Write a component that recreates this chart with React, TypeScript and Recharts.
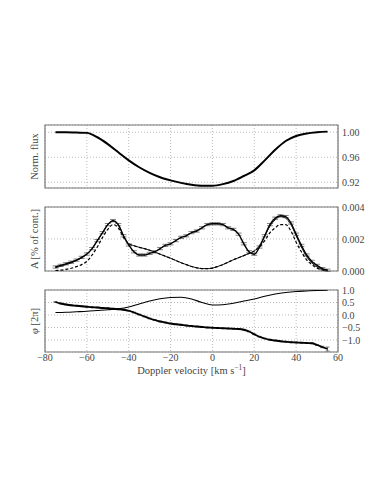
import React from "react";
import {
  ComposedChart,
  Line,
  XAxis,
  YAxis,
  CartesianGrid,
  ReferenceArea,
  ErrorBar,
  Label,
} from "recharts";

// ---------- Data ----------
const xTicks = [-80, -60, -40, -20, 0, 20, 40, 60];

// Panel 1: normalised flux
const fluxX = [-75, -70, -65, -60, -55, -50, -45, -40, -35, -30, -25, -20, -15, -10, -5, 0, 5, 10, 15, 20, 25, 30, 35, 40, 45, 50, 55];
const fluxY = [1.0, 1.0, 0.9995, 0.999, 0.992, 0.981, 0.968, 0.955, 0.944, 0.935, 0.928, 0.923, 0.919, 0.916, 0.9145, 0.9145, 0.917, 0.922, 0.93, 0.939, 0.955, 0.972, 0.986, 0.994, 0.998, 1.0, 1.001];
const fluxTicks = [0.92, 0.96, 1.0];

// Panel 2: amplitude
const ampX = [-75, -72.5, -70, -67.5, -65, -62.5, -60, -57.5, -55, -52.5, -50, -47.5, -45, -42.5, -40, -37.5, -35, -32.5, -30, -27.5, -25, -22.5, -20, -17.5, -15, -12.5, -10, -7.5, -5, -2.5, 0, 2.5, 5, 7.5, 10, 12.5, 15, 17.5, 20, 22.5, 25, 27.5, 30, 32.5, 35, 37.5, 40, 42.5, 45, 47.5, 50, 52.5, 55];
const ampData = [0.00025, 0.00035, 0.00045, 0.00055, 0.00068, 0.00085, 0.00106, 0.0014, 0.0019, 0.0024, 0.0029, 0.00315, 0.0029, 0.0022, 0.00163, 0.0012, 0.001, 0.001, 0.0011, 0.0012, 0.0014, 0.0016, 0.0017, 0.0019, 0.0021, 0.0022, 0.0024, 0.0025, 0.0027, 0.0029, 0.00295, 0.00295, 0.0029, 0.0027, 0.0026, 0.0023, 0.0017, 0.0012, 0.00105, 0.0015, 0.0022, 0.0029, 0.0033, 0.00345, 0.0034, 0.003, 0.0023, 0.0016, 0.001, 0.0006, 0.00035, 0.00015, 0.00005];
const ampErr = 0.00007;
const ampModel1 = [0.0002, 0.0003, 0.0004, 0.0005, 0.00065, 0.00082, 0.00105, 0.0014, 0.0019, 0.0024, 0.0029, 0.0031, 0.0029, 0.0022, 0.0017, 0.00158, 0.00148, 0.0014, 0.0013, 0.00118, 0.00105, 0.00092, 0.0008, 0.00066, 0.00052, 0.0004, 0.00028, 0.0002, 0.00015, 0.00015, 0.00018, 0.00028, 0.0004, 0.00055, 0.0007, 0.00083, 0.00096, 0.0011, 0.00125, 0.0016, 0.0022, 0.0028, 0.0032, 0.0034, 0.0033, 0.0029, 0.0022, 0.0015, 0.0009, 0.0005, 0.00025, 0.0001, 0.00003];
const ampModel2 = [0.00002, 0.00005, 0.0001, 0.00017, 0.00027, 0.0004, 0.0006, 0.001, 0.0015, 0.0021, 0.0026, 0.0029, 0.0027, 0.0021, 0.0017, 0.00158, 0.00148, 0.0014, 0.0013, 0.00118, 0.00105, 0.00092, 0.0008, 0.00066, 0.00052, 0.0004, 0.00028, 0.0002, 0.00015, 0.00015, 0.00018, 0.00028, 0.0004, 0.00055, 0.0007, 0.00083, 0.00096, 0.0011, 0.00125, 0.0015, 0.0019, 0.0024, 0.0027, 0.0029, 0.0029, 0.0025, 0.0018, 0.0012, 0.0007, 0.0004, 0.00018, 0.00006, 0.0];
const ampTicks = [0, 0.002, 0.004];

// Panel 3: phase
const phX = ampX;
const phDown = [0.52, 0.46, 0.42, 0.39, 0.37, 0.35, 0.33, 0.31, 0.3, 0.28, 0.27, 0.25, 0.23, 0.21, 0.17, 0.1, 0.02, -0.06, -0.14, -0.2, -0.26, -0.3, -0.34, -0.37, -0.39, -0.42, -0.44, -0.46, -0.48, -0.5, -0.51, -0.52, -0.53, -0.54, -0.55, -0.56, -0.59, -0.66, -0.77, -0.87, -0.94, -0.99, -1.02, -1.05, -1.07, -1.09, -1.1, -1.11, -1.12, -1.13, -1.2, -1.28, -1.36];
const phDownErr = [0.015, 0.015, 0.015, 0.015, 0.015, 0.015, 0.015, 0.015, 0.015, 0.015, 0.015, 0.015, 0.015, 0.015, 0.015, 0.015, 0.015, 0.015, 0.015, 0.015, 0.015, 0.015, 0.015, 0.015, 0.015, 0.015, 0.015, 0.015, 0.015, 0.015, 0.015, 0.015, 0.015, 0.015, 0.015, 0.015, 0.015, 0.015, 0.015, 0.015, 0.015, 0.015, 0.015, 0.015, 0.015, 0.015, 0.015, 0.015, 0.015, 0.015, 0.02, 0.03, 0.08];
const phUpX = [-75, -70, -65, -60, -55, -50, -45, -40, -35, -30, -25, -20, -15, -10, -5, 0, 5, 10, 15, 20, 25, 30, 35, 40, 45, 50, 55];
const phUp = [0.1, 0.11, 0.13, 0.15, 0.18, 0.21, 0.25, 0.32, 0.44, 0.56, 0.65, 0.7, 0.71, 0.64, 0.5, 0.4, 0.41, 0.47, 0.56, 0.64, 0.75, 0.84, 0.9, 0.94, 0.96, 0.98, 0.99];
const phTicks = [-1.0, -0.5, 0.0, 0.5, 1.0];

// ---------- Tables built from the arrays ----------
const fluxRows = fluxX.map((x, i) => ({ x, f: fluxY[i] }));
const ampRows = ampX.map((x, i) => ({ x, d: ampData[i], e: ampErr, m1: ampModel1[i], m2: ampModel2[i] }));
const phRows: any[] = phX.map((x, i) => ({ x, dn: phDown[i], de: phDownErr[i] }));
phUpX.forEach((x, i) => {
  const r = phRows.find((row: any) => row.x === x);
  if (r) r.up = phUp[i];
});

// ---------- Style ----------
const FONT = "'Liberation Serif', 'DejaVu Serif', serif";
const TXT = "#444";
const FRAME = "#777";
const GRID = "#aaa";
const W = 367;
const minus = (v: string) => v.replace("-", "\u2212");

const YLab = (props: any) => {
  const vb = props.viewBox || {};
  const cx = vb.x + 30;
  const cy = vb.y + vb.height / 2;
  return (
    <text
      x={cx}
      y={cy}
      transform={`rotate(-90 ${cx} ${cy})`}
      textAnchor="middle"
      fontFamily={FONT}
      fontSize={10.5}
      fill={TXT}
    >
      {props.italicHead ? <tspan fontStyle="italic">{props.italicHead}</tspan> : null}
      {props.text}
    </text>
  );
};

const XLab = (props: any) => {
  const vb = props.viewBox || {};
  const cx = vb.x + vb.width / 2;
  const cy = vb.y + 22;
  return (
    <text x={cx} y={cy} textAnchor="middle" fontFamily={FONT} fontSize={10.5} fill={TXT}>
      Doppler velocity [km s
      <tspan dy={-4} fontSize={7.5}>{"\u22121"}</tspan>
      <tspan dy={4}>]</tspan>
    </text>
  );
};

const tickStyle = { fontFamily: FONT, fontSize: 10, fill: TXT };

function Panel(props: {
  top: number;
  height: number;
  data: any[];
  domain: [number, number];
  ticks: number[];
  fmt: (v: number) => string;
  ylabel: string;
  italicHead?: string;
  showX?: boolean;
  children: React.ReactNode;
}) {
  const { top, height, data, domain, ticks, fmt, ylabel, italicHead, showX, children } = props;
  return (
    <div style={{ position: "absolute", left: 0, top, width: W, height }}>
      <ComposedChart width={W} height={height} data={data} margin={{ top: 5, right: 0, bottom: 5, left: 0 }}>
        <XAxis
          dataKey="x"
          type="number"
          domain={[-80, 60]}
          ticks={xTicks}
          hide={!showX}
          height={showX ? 30 : 0}
          axisLine={false}
          tickLine={false}
          tickSize={1}
          tickMargin={1}
          tick={tickStyle}
          tickFormatter={(v: number) => minus(String(v))}
          allowDataOverflow
        >
          {showX ? <Label content={<XLab />} /> : null}
        </XAxis>
        <YAxis
          yAxisId="L"
          orientation="left"
          width={37}
          type="number"
          domain={[0, 1]}
          tick={false}
          axisLine={false}
          tickLine={false}
        >
          <Label content={<YLab text={ylabel} italicHead={italicHead} />} />
        </YAxis>
        <YAxis
          yAxisId="R"
          orientation="right"
          width={37}
          type="number"
          domain={domain}
          ticks={ticks}
          allowDataOverflow
          axisLine={false}
          tickLine={false}
          tickSize={3}
          tickMargin={1}
          tick={tickStyle}
          tickFormatter={(v: number) => minus(fmt(v))}
          interval={0}
        />
        <CartesianGrid yAxisId="R" stroke={GRID} strokeDasharray="1 2" strokeWidth={0.8} />
        <ReferenceArea
          yAxisId="R"
          x1={-80}
          x2={60}
          y1={domain[0]}
          y2={domain[1]}
          fill="none"
          stroke={FRAME}
          strokeWidth={1.2}
          ifOverflow="visible"
        />
        {children}
      </ComposedChart>
    </div>
  );
}

export default function App() {
  return (
    <div style={{ position: "relative", width: W, height: 487, background: "#fff" }}>
      <Panel
        top={112}
        height={73}
        data={fluxRows}
        domain={[0.9108, 1.0116]}
        ticks={fluxTicks}
        fmt={(v) => v.toFixed(2)}
        ylabel="Norm. flux"
      >
        <Line yAxisId="R" dataKey="f" type="monotone" stroke="#000" strokeWidth={2} dot={false} isAnimationActive={false} />
      </Panel>
      <Panel
        top={194}
        height={74}
        data={ampRows}
        domain={[0, 0.004]}
        ticks={ampTicks}
        fmt={(v) => v.toFixed(3)}
        ylabel="A [% of cont.]"
      >
        <Line yAxisId="R" dataKey="m1" type="monotone" stroke="#000" strokeWidth={0.9} dot={false} isAnimationActive={false} />
        <Line yAxisId="R" dataKey="m2" type="monotone" stroke="#000" strokeWidth={1.2} strokeDasharray="3 2" dot={false} isAnimationActive={false} />
        <Line yAxisId="R" dataKey="d" type="monotone" stroke="#000" strokeWidth={1.4} dot={false} isAnimationActive={false}>
          <ErrorBar dataKey="e" width={3} stroke="#333" strokeWidth={0.6} direction="y" />
        </Line>
      </Panel>
      <Panel
        top={277}
        height={102}
        data={phRows}
        domain={[-1.48, 1.0]}
        ticks={phTicks}
        fmt={(v) => v.toFixed(1)}
        ylabel={" [2\u03c0]"}
        italicHead={"\u03c6"}
        showX
      >
        <Line yAxisId="R" dataKey="up" type="monotone" stroke="#000" strokeWidth={1.1} dot={false} connectNulls isAnimationActive={false} />
        <Line yAxisId="R" dataKey="dn" type="monotone" stroke="#000" strokeWidth={1.8} dot={false} isAnimationActive={false}>
          <ErrorBar dataKey="de" width={2} stroke="#333" strokeWidth={0.6} direction="y" />
        </Line>
      </Panel>
    </div>
  );
}
